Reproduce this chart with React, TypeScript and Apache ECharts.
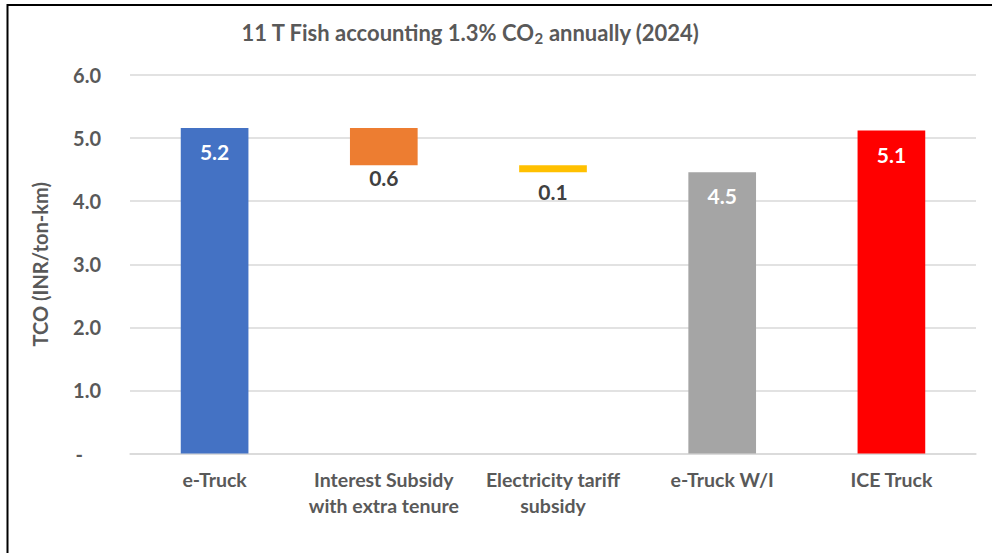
import React, { useEffect, useRef } from "react";
import * as echarts from "echarts";

// Waterfall of total cost of ownership, from e-Truck down to e-Truck with incentives, plus ICE truck
const categories = [
  "e-Truck",
  "Interest Subsidy\nwith extra tenure",
  "Electricity tariff\nsubsidy",
  "e-Truck W/I",
  "ICE Truck",
];
const stepValues = [5.16, 0.59, 0.11, 4.46, 5.12];
const stepKinds = ["total", "decrease", "decrease", "total", "total"];
const stepColors = ["#4472C4", "#ED7D31", "#FFC000", "#A5A5A5", "#FF0000"];
const yMin = 0;
const yMax = 6;
const yStep = 1;

const FONT = "Lato, 'Open Sans', sans-serif";
const GREY_TEXT = "#595959";

export default function App() {
  const ref = useRef<HTMLDivElement>(null);

  useEffect(() => {
    if (!ref.current) return;
    const chart = echarts.init(ref.current, undefined, { renderer: "svg" });

    // invisible base under each decrease so the step floats at the running total
    let running = 0;
    const bases: number[] = [];
    stepValues.forEach((v, i) => {
      if (stepKinds[i] === "total") {
        running = v;
        bases.push(0);
      } else {
        running = running - v;
        bases.push(running);
      }
    });

    const labelDistances = [13, 2, 9, 13, 13];

    const valueData = stepValues.map((v, i) => {
      const isTotal = stepKinds[i] === "total";
      return {
        value: v,
        itemStyle: { color: stepColors[i] },
        label: {
          show: true,
          position: isTotal ? "insideTop" : "bottom",
          distance: labelDistances[i],
          color: isTotal ? "#FFFFFF" : "#404040",
          fontSize: 21,
          fontWeight: "bold",
          fontFamily: FONT,
          formatter: (p: any) => Number(p.value).toFixed(1),
        },
      };
    });

    chart.setOption({
      animation: false,
      backgroundColor: "#FFFFFF",
      title: {
        text: "11 T Fish accounting 1.3% CO{sub|2} annually (2024)",
        left: 465,
        top: 15,
        textAlign: "center",
        textStyle: {
          fontFamily: FONT,
          fontSize: 22,
          fontWeight: "bold",
          color: GREY_TEXT,
          rich: {
            sub: {
              fontFamily: FONT,
              fontSize: 15,
              fontWeight: "bold",
              color: GREY_TEXT,
              padding: [10, 0, 0, 0],
            },
          },
        },
      },
      grid: { left: 130, right: 16, top: 75, bottom: 99.5, containLabel: false },
      xAxis: {
        type: "category",
        data: categories,
        axisLine: { lineStyle: { color: "#D9D9D9", width: 1.5 } },
        axisTick: { show: false },
        axisLabel: {
          interval: 0,
          margin: 13,
          color: GREY_TEXT,
          fontFamily: FONT,
          fontSize: 19.5,
          fontWeight: "bold",
          lineHeight: 26,
        },
      },
      yAxis: {
        type: "value",
        min: yMin,
        max: yMax,
        interval: yStep,
        name: "TCO (INR/ton-km)",
        nameLocation: "middle",
        nameGap: 80,
        nameTextStyle: {
          color: GREY_TEXT,
          fontFamily: FONT,
          fontSize: 20,
          fontWeight: "bold",
        },
        axisLine: { show: false },
        axisTick: { show: false },
        splitLine: { lineStyle: { color: "#D9D9D9", width: 1.5 } },
        axisLabel: {
          margin: 29,
          color: GREY_TEXT,
          fontFamily: FONT,
          fontSize: 20,
          fontWeight: "bold",
          formatter: (v: number) => (v === 0 ? "{dash|-}" : v.toFixed(1)),
          rich: {
            dash: {
              color: GREY_TEXT,
              fontFamily: FONT,
              fontSize: 20,
              fontWeight: "bold",
              padding: [0, 18, 0, 0],
            },
          },
        },
      },
      series: [
        {
          type: "bar",
          stack: "tco",
          barWidth: "40%",
          data: bases,
          itemStyle: { color: "transparent" },
          emphasis: { disabled: true },
          silent: true,
        },
        {
          type: "bar",
          stack: "tco",
          barWidth: "40%",
          data: valueData,
        },
      ],
      graphic: [
        {
          type: "line",
          shape: { x1: 7, y1: 5, x2: 992, y2: 5 },
          style: { stroke: "#000000", lineWidth: 2 },
        },
        {
          type: "line",
          shape: { x1: 7.5, y1: 4, x2: 7.5, y2: 553 },
          style: { stroke: "#000000", lineWidth: 2 },
        },
      ],
    });

    return () => chart.dispose();
  }, []);

  return (
    <div
      ref={ref}
      style={{ position: "absolute", left: 0, top: 0, width: 992, height: 553 }}
    />
  );
}
